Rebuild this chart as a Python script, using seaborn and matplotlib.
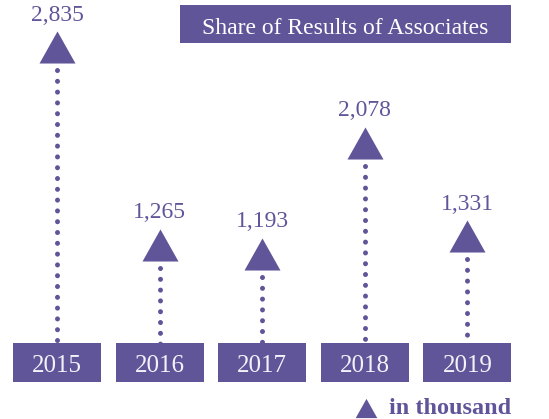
import matplotlib
matplotlib.use("Agg")
import matplotlib.pyplot as plt
import seaborn as sns
import pandas as pd
from matplotlib.patches import Rectangle
from matplotlib.path import Path

years = ["2015", "2016", "2017", "2018", "2019"]
values = [2835, 1265, 1193, 2078, 1331]
title = "Share of Results of Associates"
unit_label = "in thousand"

purple = "#61559a"

sns.set_theme(style="white")
plt.rcParams["font.family"] = ["Liberation Serif", "DejaVu Serif"]

W, H = 549, 419
fig = plt.figure(figsize=(W / 100, H / 100), dpi=100)
ax = fig.add_axes([0, 0, 1, 1])
ax.set_axis_off()

x_lo, x_hi = -0.556, 4.795
y_lo, y_hi = -123, 3213
ax.set_xlim(x_lo, x_hi)
ax.set_ylim(y_lo, y_hi)
per_px = (y_hi - y_lo) / H
xpx = (x_hi - x_lo) / W

df = pd.DataFrame({"pos": range(len(years)), "year": years, "value": values})

# triangle a bit flatter than the default '^'
tri = Path([(-1, -0.89), (1, -0.89), (0, 0.89), (-1, -0.89)],
           [Path.MOVETO, Path.LINETO, Path.LINETO, Path.CLOSEPOLY])

# dotted stems, drawn from the triangle down into the year box
box_top = y_hi - 346 * per_px
for _, r in df.iterrows():
    ax.plot([r.pos, r.pos], [r.value - 23 * per_px, box_top], color=purple,
            lw=3.6, linestyle=(0, (0.01, 2.15)), dash_capstyle="round", zorder=1)

sns.scatterplot(data=df, x="pos", y="value", marker=tri, s=672, color=purple,
                linewidth=0, ax=ax, zorder=3, label=unit_label)

for _, r in df.iterrows():
    ax.annotate(f"{r.value:,}", (r.pos, r.value), xytext=(0, 19),
                textcoords="offset points", ha="center", va="baseline",
                fontsize=17, color=purple)

# year boxes
bw = 88 * xpx
tr = ax.get_xaxis_transform()
for i, y in enumerate(years):
    ax.add_patch(Rectangle((i - bw / 2, (H - 382) / H), bw, 39 / H,
                           transform=tr, facecolor=purple, edgecolor="none", zorder=4))
    ax.text(i, (H - 371.5) / H, y, transform=tr, ha="center", va="baseline",
            fontsize=18, color="#f4f2f8", zorder=5)

# title box
ax.add_patch(Rectangle((180 / W, (H - 43) / H), 331 / W, 38 / H,
                       transform=ax.transAxes, facecolor=purple, edgecolor="none", zorder=4))
ax.text(345.5 / W, (H - 33.5) / H, title, transform=ax.transAxes, ha="center",
        va="baseline", fontsize=17, color="white", zorder=5)

leg = ax.legend(loc="lower right", bbox_to_anchor=(511 / W, 0), frameon=False,
                markerscale=0.6, handlelength=1.0, handletextpad=0.45,
                borderpad=0, borderaxespad=0,
                prop={"weight": "bold", "size": 17.5})
for t in leg.get_texts():
    t.set_color(purple)

fig.savefig("out.png", dpi=100)
